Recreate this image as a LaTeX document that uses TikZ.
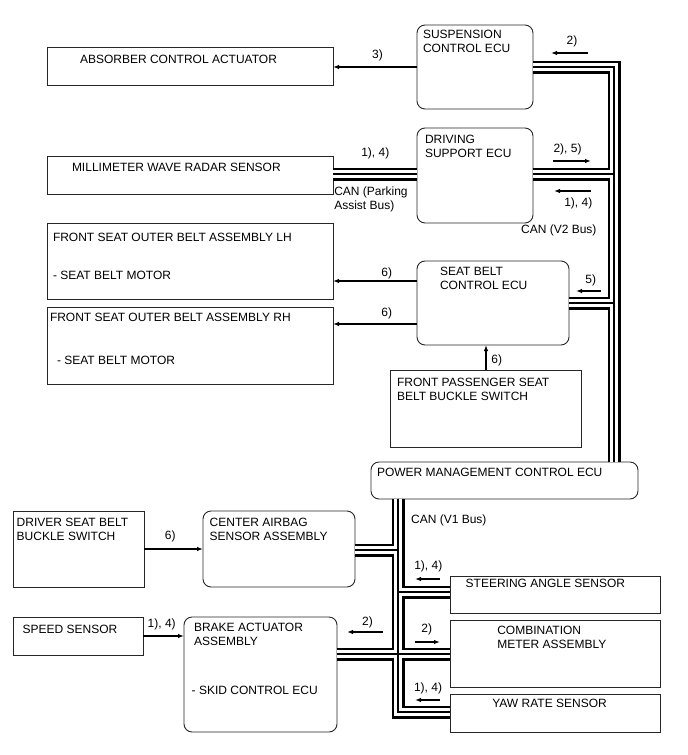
\documentclass[tikz,border=0pt]{standalone}
\usepackage{fontspec}
\setmainfont{Liberation Sans}
\usetikzlibrary{arrows.meta}
\begin{document}
\begin{tikzpicture}[x=1pt,y=-1pt,
  box/.style={draw=black!85, line width=0.9pt, inner sep=0pt, outer sep=0pt, anchor=north west},
  rbox/.style={box, rounded corners=8pt},
  txt/.style={inner sep=0pt, outer sep=0pt, anchor=north west, align=left, font=\fontsize{12}{14}\selectfont},
  lbl/.style={inner sep=0pt, outer sep=0pt, font=\fontsize{12}{14}\selectfont},
  arr/.style={line width=1.2pt, -{Latex[length=6pt,width=4.5pt]}},
  busO/.style={line width=13pt, black},
  busW/.style={line width=8pt, white},
  busC/.style={line width=1.3pt, black}]
\useasboundingbox (0,0) rectangle (688,755);

% boxes
\node[box,  minimum width=286pt, minimum height=38pt] (abs) at (47,47) {};
\node[box,  minimum width=286pt, minimum height=38pt] (mmw) at (47,156) {};
\node[box,  minimum width=286pt, minimum height=76pt] (lh)  at (47,223) {};
\node[box,  minimum width=286pt, minimum height=77pt] (rh)  at (47,307) {};
\node[rbox, minimum width=116pt, minimum height=84pt] (susp) at (417,25) {};
\node[rbox, minimum width=116pt, minimum height=95pt] (dss) at (417,128) {};
\node[rbox, minimum width=152pt, minimum height=84pt] (sbc) at (417,261) {};
\node[box,  minimum width=191pt, minimum height=77pt] (fps) at (390,370) {};
\node[rbox, minimum width=267pt, minimum height=37pt] (pm)  at (371,462) {};
\node[box,  minimum width=131pt, minimum height=76pt] (dsb) at (13,511) {};
\node[rbox, minimum width=152pt, minimum height=76pt] (cab) at (203,511) {};
\node[box,  minimum width=130pt, minimum height=38pt] (spd) at (13,617) {};
\node[rbox, minimum width=153pt, minimum height=115pt] (brk) at (184,617) {};
\node[box,  minimum width=210pt, minimum height=37pt] (sas) at (450,576) {};
\node[box,  minimum width=210pt, minimum height=67pt] (cmb) at (450,620) {};
\node[box,  minimum width=210pt, minimum height=38pt] (yaw) at (450,694) {};

% bus coordinates
\coordinate (v2c) at (614,67);
\coordinate (v2a) at (614,174);
\coordinate (v2b) at (614,303);
\coordinate (v1t) at (398,499);
\coordinate (v1a) at (398,550);
\coordinate (v1s) at (398,592);
\coordinate (v1x) at (398,654);
\coordinate (v1c) at (398,712);

\newcommand\myBusPath{
  (susp.east |- v2c) -- (v2c) -- (pm.north -| v2c)
  (dss.east |- v2a) -- (v2a)
  (sbc.east |- v2b) -- (v2b)
  (mmw.east |- v2a) -- (dss.west |- v2a)
  (pm.south -| v1t) -- (v1c) -- (yaw.west |- v1c)
  (cab.east |- v1a) -- (v1a)
  (v1s) -- (sas.west |- v1s)
  (brk.east |- v1x) -- (cmb.west |- v1x)
}
\draw[busO] \myBusPath;
\draw[busW] \myBusPath;
\draw[busC] \myBusPath;

% box texts
\node[txt] (absT) at (80,54.7) {ABSORBER CONTROL ACTUATOR};
\node[txt] (mmwT) at (72,162.7) {MILLIMETER WAVE RADAR SENSOR};
\node[txt] (lhT) at (53,232.7) {FRONT SEAT OUTER BELT ASSEMBLY LH};
\node[txt] (lhM) at (53,270.7) {- SEAT BELT MOTOR};
\node[txt] (rhT) at (50,312.7) {FRONT SEAT OUTER BELT ASSEMBLY RH};
\node[txt] (rhM) at (57,355.7) {- SEAT BELT MOTOR};
\node[txt] (suspT) at (423,30.4) {SUSPENSION\\CONTROL ECU};
\node[txt] (dssT) at (425,135) {DRIVING\\SUPPORT ECU};
\node[txt] (sbcT) at (440,267) {SEAT BELT\\CONTROL ECU};
\node[txt] (fpsT) at (397,378.3) {FRONT PASSENGER SEAT\\BELT BUCKLE SWITCH};
\node[txt] (pmT) at (377,468) {POWER MANAGEMENT CONTROL ECU};
\node[txt] (dsbT) at (16.7,517.7) {DRIVER SEAT BELT\\BUCKLE SWITCH};
\node[txt] (cabT) at (209.7,517.7) {CENTER AIRBAG\\SENSOR ASSEMBLY};
\node[txt] (spdT) at (22.7,625.3) {SPEED SENSOR};
\node[txt] (brkT) at (194,622.7) {BRAKE ACTUATOR\\ASSEMBLY};
\node[txt] (brkM) at (191.7,686) {- SKID CONTROL ECU};
\node[txt] (sasT) at (465.7,579.3) {STEERING ANGLE SENSOR};
\node[txt] (cmbT) at (497.3,625.7) {COMBINATION\\METER ASSEMBLY};
\node[txt] (yawT) at (492.3,699.3) {YAW RATE SENSOR};

% bus labels
\node[txt] (canP) at (334.3,186.7) {CAN (Parking\\Assist Bus)};
\node[lbl] (canV2) at (558.8,230.5) {CAN (V2 Bus)};
\node[lbl] (canV1) at (448.8,520.8) {CAN (V1 Bus)};

% arrows between boxes
\draw[arr] (susp.west |- 0,67) -- (abs.east |- 0,67);
\node[lbl] (l3) at (377.5,55.3) {3)};
\draw[arr] (sbc.west |- 0,281) -- (lh.east |- 0,281);
\node[lbl] (l6a) at (386.7,273.7) {6)};
\draw[arr] (sbc.west |- 0,324) -- (rh.east |- 0,324);
\node[lbl] (l6b) at (386.7,313.3) {6)};
\draw[arr] (fps.north -| 486,0) -- (sbc.south -| 486,0);
\node[lbl] (l6c) at (496.7,360.2) {6)};
\draw[arr] (dsb.east) -- (dsb.east -| cab.west);
\node[lbl] (l6d) at (170.3,536.7) {6)};
\draw[arr] (spd.east) -- (spd.east -| brk.west);
\node[lbl] (l14s) at (161.7,624.7) {1), 4)};
\node[lbl] (l14p) at (375.3,153.8) {1), 4)};

% direction arrows on buses
\coordinate (a1s) at (588,53);  \coordinate (a1e) at (551,53);
\coordinate (a2s) at (553,161); \coordinate (a2e) at (591,161);
\coordinate (a3s) at (591,191); \coordinate (a3e) at (554,191);
\coordinate (a4s) at (601,291); \coordinate (a4e) at (576,291);
\coordinate (a5s) at (383,632); \coordinate (a5e) at (347,632);
\coordinate (a6s) at (440,579); \coordinate (a6e) at (415,579);
\coordinate (a7s) at (415,642); \coordinate (a7e) at (440,642);
\coordinate (a8s) at (440,700); \coordinate (a8e) at (415,700);
\draw[arr] (a1s) -- (a1e);
\draw[arr] (a2s) -- (a2e);
\draw[arr] (a3s) -- (a3e);
\draw[arr] (a4s) -- (a4e);
\draw[arr] (a5s) -- (a5e);
\draw[arr] (a6s) -- (a6e);
\draw[arr] (a7s) -- (a7e);
\draw[arr] (a8s) -- (a8e);
\node[lbl] (l2a) at (572,41.3) {2)};
\node[lbl] (l25) at (567.5,149) {2), 5)};
\node[lbl] (l14a) at (578.3,203) {1), 4)};
\node[lbl] (l5) at (590.8,280) {5)};
\node[lbl] (l2b) at (367.5,622.7) {2)};
\node[lbl] (l14b) at (428.3,566.7) {1), 4)};
\node[lbl] (l2c) at (426.7,629.7) {2)};
\node[lbl] (l14c) at (428,688.8) {1), 4)};
\end{tikzpicture}
\end{document}
